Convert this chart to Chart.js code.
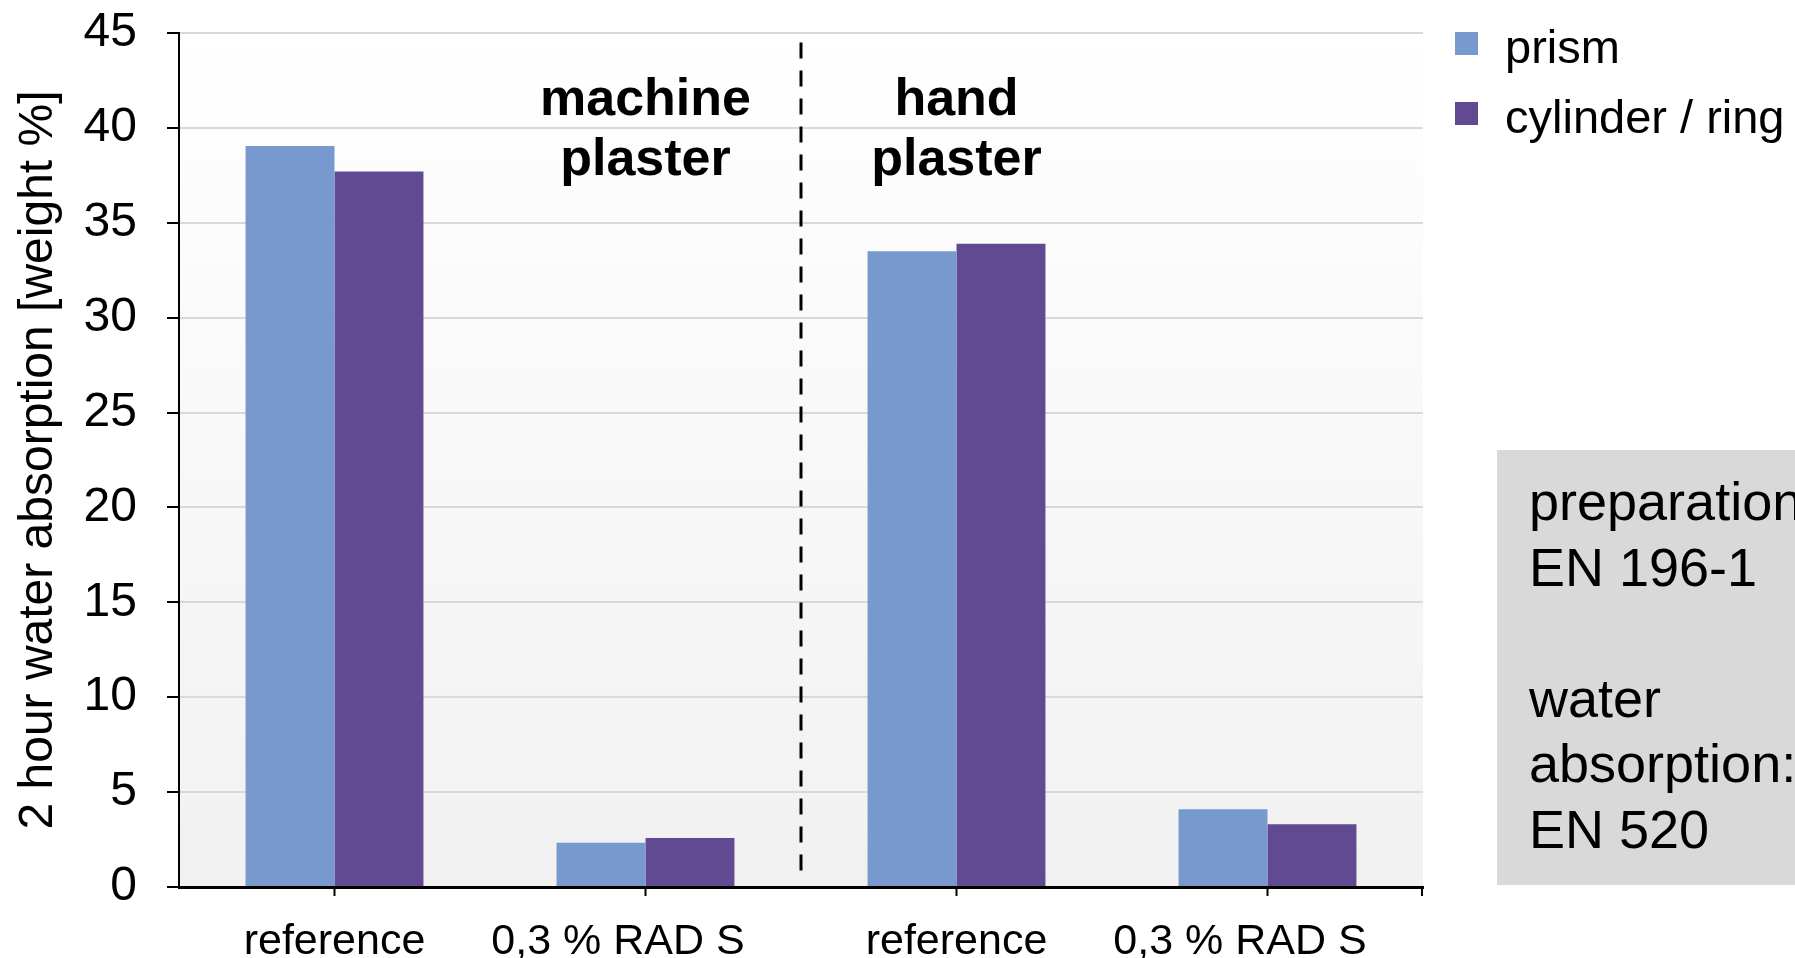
<!DOCTYPE html>
<html>
<head>
<meta charset="utf-8">
<script src="https://cdn.jsdelivr.net/npm/chart.js@4.4.0/dist/chart.umd.min.js"></script>
<style>
  html, body { margin: 0; padding: 0; background: #fff; }
  #wrap { width: 1795px; height: 958px; overflow: hidden; }
</style>
</head>
<body>
<div id="wrap"><canvas id="chart" width="1795" height="958"></canvas></div>
<script>
// data
const categories = ['reference', '0,3 % RAD S', 'reference', '0,3 % RAD S'];
const prismValues = [39.05, 2.33, 33.5, 4.1];
const cylinderValues = [37.7, 2.58, 33.9, 3.3];
const seriesNames = ['prism', 'cylinder / ring'];
const groupLabels = [['machine', 'plaster'], ['hand', 'plaster']];
const noteLines = ['preparation', 'EN 196-1', '', 'water', 'absorption:', 'EN 520'];
const yMin = 0, yMax = 45, yStep = 5;

const FONT = '"Liberation Sans", Arial, sans-serif';
Chart.defaults.font.family = FONT;
Chart.defaults.color = '#000';

// white -> light grey plot background
const plotBackground = {
  id: 'plotBackground',
  beforeDraw(chart) {
    const { ctx, chartArea: a } = chart;
    const g = ctx.createLinearGradient(0, a.top, 0, a.bottom);
    g.addColorStop(0, '#ffffff');
    g.addColorStop(1, '#f1f1f1');
    ctx.save();
    ctx.fillStyle = g;
    ctx.fillRect(a.left, a.top, a.right - a.left, a.bottom - a.top);
    ctx.restore();
  }
};

// dashed divider, group titles, legend and the note box
const extras = {
  id: 'extras',
  afterDraw(chart) {
    const { ctx, chartArea: a } = chart;
    const xs = chart.scales.x, ys = chart.scales.y;
    ctx.save();

    // end tick on x axis
    ctx.strokeStyle = '#000';
    ctx.lineWidth = 2;
    ctx.beginPath();
    ctx.moveTo(a.right - 1, a.bottom);
    ctx.lineTo(a.right - 1, a.bottom + 9);
    ctx.stroke();

    // dashed divider between the two plaster groups
    const xDiv = (xs.getPixelForValue(1) + xs.getPixelForValue(2)) / 2;
    ctx.setLineDash([16, 12]);
    ctx.lineWidth = 3;
    ctx.beginPath();
    ctx.moveTo(xDiv, ys.getPixelForValue(44.5));
    ctx.lineTo(xDiv, ys.getPixelForValue(0.8));
    ctx.stroke();
    ctx.setLineDash([]);

    // group titles
    ctx.fillStyle = '#000';
    ctx.textAlign = 'center';
    ctx.textBaseline = 'alphabetic';
    ctx.font = 'bold 52px ' + FONT;
    groupLabels.forEach((lines, i) => {
      const cx = xs.getPixelForValue(i + 1);
      lines.forEach((t, j) => ctx.fillText(t, cx, 115 + j * 60));
    });

    // legend
    ctx.textAlign = 'left';
    ctx.font = '47px ' + FONT;
    chart.data.datasets.forEach((ds, i) => {
      const top = 32 + i * 70;
      ctx.fillStyle = ds.backgroundColor;
      ctx.fillRect(a.right + 32, top, 23, 23);
      ctx.fillStyle = '#000';
      ctx.fillText(ds.label, a.right + 82, 63 + i * 70);
    });

    // note box
    ctx.fillStyle = '#d9d9d9';
    ctx.fillRect(a.right + 74, 450, chart.width, 435);
    ctx.fillStyle = '#000';
    ctx.font = '54px ' + FONT;
    noteLines.forEach((t, i) => {
      if (t) ctx.fillText(t, a.right + 106, 520 + i * 65.5);
    });

    ctx.restore();
  }
};

new Chart(document.getElementById('chart'), {
  type: 'bar',
  data: {
    labels: categories,
    datasets: [
      { label: seriesNames[0], data: prismValues, backgroundColor: '#7899cd',
        borderWidth: 0, categoryPercentage: 0.572, barPercentage: 1 },
      { label: seriesNames[1], data: cylinderValues, backgroundColor: '#624a92',
        borderWidth: 0, categoryPercentage: 0.572, barPercentage: 1 }
    ]
  },
  options: {
    responsive: false,
    animation: false,
    devicePixelRatio: 1,
    layout: { padding: { top: 33, right: 372, left: 0, bottom: 0 } },
    plugins: {
      legend: { display: false },
      tooltip: { enabled: false }
    },
    scales: {
      x: {
        offset: true,
        grid: { offset: false, drawOnChartArea: false, drawTicks: true,
                tickLength: 9, tickColor: '#000', tickWidth: 2 },
        border: { color: '#000', width: 3 },
        ticks: {
          color: '#000', font: { size: 43 }, padding: 20,
          maxRotation: 0, autoSkip: false,
          // the RAD S labels sit a little left of their tick in the original
          callback(v) {
            const t = this.getLabelForValue(v);
            return t.indexOf('RAD') >= 0 ? t + '\u2002\u2002 ' : t;
          }
        },
        afterFit(s) { s.height = 71; }
      },
      y: {
        min: yMin,
        max: yMax,
        ticks: { stepSize: yStep, color: '#000', font: { size: 48 }, padding: 30 },
        grid: { color: '#d9d9d9', lineWidth: 2, tickColor: '#000',
                tickLength: 12, tickWidth: 2 },
        border: { color: '#000', width: 2 },
        title: { display: true, text: '2 hour water absorption [weight %]',
                 color: '#000', font: { size: 48 }, padding: { top: 10, bottom: 0 } },
        afterFit(s) {
          s.width = 179;
          s.paddingTop = 25;
          s.paddingBottom = 0;
        }
      }
    }
  },
  plugins: [plotBackground, extras]
});
</script>
</body>
</html>
